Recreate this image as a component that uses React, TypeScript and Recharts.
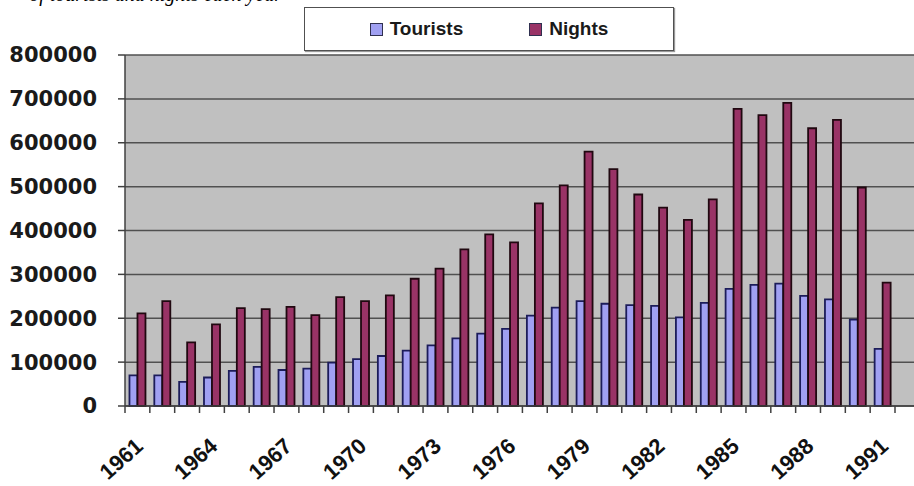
import React from 'react';
import { BarChart, Bar, XAxis, YAxis, CartesianGrid, Legend } from 'recharts';

const years = ['1961','1962','1963','1964','1965','1966','1967','1968','1969','1970','1971','1972','1973','1974','1975','1976','1977','1978','1979','1980','1981','1982','1983','1984','1985','1986','1987','1988','1989','1990','1991'];
const tourists = [70000,70000,55000,65000,80000,89000,82000,85000,99000,107000,114000,126000,138000,154000,165000,176000,206000,224000,239000,233000,230000,228000,202000,235000,267000,276000,279000,251000,243000,197000,130000];
const nights = [211000,239000,145000,186000,223000,221000,226000,207000,248000,239000,252000,290000,313000,357000,391000,373000,462000,503000,580000,540000,482000,452000,424000,471000,677000,663000,691000,633000,652000,498000,281000];
const yTicks = [0,100000,200000,300000,400000,500000,600000,700000,800000];
const seriesOrder = ['Tourists', 'Nights'];

const data = years.map((y, i) => ({ year: y, Tourists: tourists[i], Nights: nights[i] }));

const W = 914;
const H = 486;
const Y_W = 125;
const PAD_R = 19;

const XTick = (props: any) => {
  const { x, y, payload, index } = props;
  const fallback = (W - Y_W - PAD_R) / years.length;
  const half = payload && payload.offset ? payload.offset : fallback / 2;
  const left = x - half;
  const isLast = index === years.length - 1;
  return (
    <g>
      <line x1={left} y1={y} x2={left} y2={y + 7} stroke="#404040" strokeWidth={1.5} />
      {isLast && <line x1={x + half} y1={y} x2={x + half} y2={y + 7} stroke="#404040" strokeWidth={1.5} />}
      {index % 3 === 0 && (
        <text
          transform={`translate(${x + 7},${y + 42}) rotate(-42)`}
          textAnchor="end"
          fontFamily="Liberation Sans, Arial, sans-serif"
          fontWeight="bold"
          fontSize={22}
          fill="#111"
        >
          {payload.value}
        </text>
      )}
    </g>
  );
};

const LegendBox = (props: any) => {
  const payload = [...(props.payload || [])].sort(
    (a: any, b: any) => seriesOrder.indexOf(a.value) - seriesOrder.indexOf(b.value)
  );
  return (
    <div
      style={{
        width: 370,
        height: 44,
        boxSizing: 'border-box',
        border: '1.5px solid #505050',
        background: '#fff',
        boxShadow: '1px 1px 1px #999',
        display: 'flex',
        alignItems: 'center',
        justifyContent: 'center',
        gap: 66,
        fontFamily: '"Liberation Sans", Arial, sans-serif',
        fontWeight: 'bold',
        fontSize: 19,
        color: '#1a1a1a',
      }}
    >
      {payload.map((p: any) => (
        <div key={p.value} style={{ display: 'flex', alignItems: 'center' }}>
          <span
            style={{
              display: 'inline-block',
              width: 11,
              height: 11,
              background: p.color,
              border: '1.5px solid #303050',
              marginRight: 7,
            }}
          />
          <span>{p.value}</span>
        </div>
      ))}
    </div>
  );
};

export default function App() {
  return (
    <div style={{ position: 'absolute', left: 0, top: 0, width: W, height: H, background: '#fff' }}>
      <svg width={W} height={20} style={{ position: 'absolute', left: 0, top: 0 }}>
        <text x={282} y={1} textAnchor="end" fontFamily="Liberation Serif" fontStyle="italic" fontSize={20} fill="#000">
          of tourists and nights each year
        </text>
      </svg>
      <BarChart
        width={W}
        height={H}
        data={data}
        margin={{ top: 55, right: 0, bottom: 0, left: 0 }}
        barCategoryGap="18%"
        barGap={0}
      >
        <CartesianGrid vertical={false} stroke="#505050" strokeWidth={1.5} fill="#c0c0c0" />
        <XAxis
          dataKey="year"
          interval={0}
          height={80}
          tickSize={0}
          tickMargin={0}
          tickLine={false}
          axisLine={{ stroke: '#404040', strokeWidth: 1.5 }}
          padding={{ left: 0, right: PAD_R }}
          tick={<XTick />}
        />
        <YAxis
          width={Y_W}
          domain={[0, 800000]}
          ticks={yTicks}
          interval={0}
          tickSize={7}
          tickMargin={21}
          axisLine={{ stroke: '#404040', strokeWidth: 1.5 }}
          tickLine={{ stroke: '#404040', strokeWidth: 1.5 }}
          tick={{ fill: '#1a1a1a', fontFamily: 'DejaVu Sans', fontWeight: 'bold', fontSize: 21 }}
        />
        <Legend
          layout="horizontal"
          verticalAlign="middle"
          align="center"
          content={<LegendBox />}
          wrapperStyle={{ position: 'absolute', left: 304, top: 7, width: 370, height: 44 }}
        />
        <Bar dataKey="Tourists" fill="#a0a0f2" stroke="#1c1c5a" strokeWidth={1.8} isAnimationActive={false} />
        <Bar dataKey="Nights" fill="#993366" stroke="#200810" strokeWidth={1.8} isAnimationActive={false} />
      </BarChart>
    </div>
  );
}
